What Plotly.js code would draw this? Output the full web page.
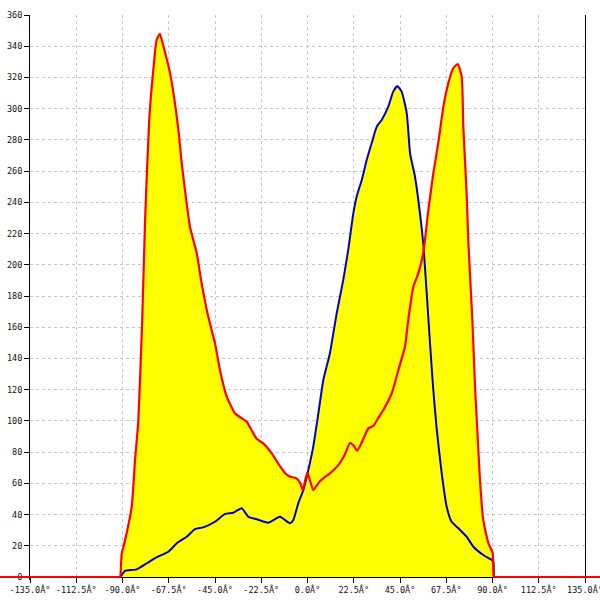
<!DOCTYPE html>
<html>
<head>
<meta charset="utf-8">
<script src="https://cdn.plot.ly/plotly-3.0.1.min.js"></script>
<style>html,body{margin:0;padding:0;background:#fff}#chart{width:600px;height:600px}</style>
</head>
<body>
<div id="chart"></div>
<script>
// Red series (angle in degrees, value)
const redX = [-180, -135, -100, -92, -91.2, -90.4, -89.6, -88, -85.5, -83.9, -82.3, -80.4, -79, -77, -75, -73.4, -71.8, -70.1, -66.9, -64.5, -62.8, -61.2, -58.8, -57.2, -53.9, -51.5, -48.3, -45, -42.6, -39.3, -35.3, -32, -29.6, -24.7, -21.5, -17.4, -13.4, -10.5, -8.5, -5.3, -3.5, -2.3, -0.1, 2.8, 5.8, 8, 10.9, 15, 18, 20.7, 22.5, 24.2, 27, 29.6, 32, 34.5, 36.9, 41, 44.2, 47.4, 49, 51.5, 53.9, 56.3, 58.8, 61.2, 63.6, 66.1, 68.5, 70.9, 73.1, 75, 75.8, 76.6, 77.4, 78.2, 79.1, 80.2, 81.5, 82.6, 83.9, 85.5, 88, 90.1, 90.7, 91.5, 100, 135, 180];
const redY = [0, 0, 0, 0, 0, 15, 19, 28, 45, 75, 100, 165, 229, 293, 325, 344, 348, 340, 323, 303.5, 286.4, 265, 239.4, 224.4, 207.4, 188.1, 166.8, 149.7, 132.6, 115.5, 104.9, 101.7, 99.5, 88.5, 85.6, 79.2, 71, 66, 64.3, 63.2, 60, 55.7, 67, 55.7, 61, 63.5, 66.4, 71.7, 78, 86, 84, 81, 88, 95.2, 96.7, 102, 107, 117.7, 132.6, 147.5, 164.6, 186, 194.5, 207.4, 235.1, 258.6, 277.8, 301.3, 316.3, 325.9, 328.6, 320.5, 288.5, 267.1, 245.8, 215.9, 192.4, 164.6, 122, 94.2, 62.1, 36.5, 21.6, 15.2, 0, 0, 0, 0, 0];

// Blue series
const blueX = [-91.2, -90.4, -88.8, -83.1, -78.2, -73.4, -67.7, -63.6, -58.8, -54.7, -50.7, -45, -40.1, -36.1, -32, -28.8, -24.7, -19.1, -13.4, -8.5, -6.9, -4.5, -2, 0.4, 2.8, 5.3, 7.7, 10.9, 14.2, 17.4, 19.8, 22.3, 23.9, 26.4, 28.8, 31.2, 33.7, 36.1, 39.3, 41.7, 43.7, 45.8, 48.3, 49.9, 52.3, 53.9, 56.3, 58, 59.6, 61.2, 62.9, 65.3, 67.7, 70.1, 73.4, 77.4, 80.7, 85.5, 89.6, 90.4, 90.6];
const blueY = [0, 1.3, 4, 4.9, 8.8, 12.6, 16.2, 21.6, 25.8, 30.6, 31.8, 35.4, 40.4, 41.2, 44, 38.6, 37, 34.8, 38.6, 34.4, 36.5, 47.2, 55.7, 68.5, 83.5, 104.9, 126.2, 143.3, 168.9, 190.3, 209.5, 233, 243.6, 254.3, 267.1, 277.8, 288.5, 292.8, 301.3, 310.9, 314.5, 310.9, 297, 271.4, 256.4, 241.5, 213.8, 181.7, 149.7, 119.8, 94.2, 66.4, 45, 35.4, 31.2, 25.8, 19.4, 14.1, 10.9, 9.8, 0];

// Tick labels
const xTickVals = [-135, -112.5, -90, -67.5, -45, -22.5, 0, 22.5, 45, 67.5, 90, 112.5, 135];
const xTickText = ["-135.0Â°", "-112.5Â°", "-90.0Â°", "-67.5Â°", "-45.0Â°", "-22.5Â°", "0.0Â°", "22.5Â°", "45.0Â°", "67.5Â°", "90.0Â°", "112.5Â°", "135.0Â°"];
const yTickVals = [0, 20, 40, 60, 80, 100, 120, 140, 160, 180, 200, 220, 240, 260, 280, 300, 320, 340, 360];

// Geometry
const W = 600, H = 600;
const plotL = 30, plotR = 585, mT = 15, mB = 20;
const xMin = -135, xMax = 135;
const upp = (xMax - xMin) / (plotR - plotL);
const x2Range = [xMin - plotL * upp, xMax + (W - plotR) * upp];
const plotH = H - mT - mB;
const yTop = 360, yZeroPx = 577;
const vpp = yTop / (yZeroPx - mT);
const yRange = [-(H - mB - yZeroPx) * vpp, yTop];

const font = {family: "DejaVu Sans Mono, monospace", size: 8.5, color: "#111"};
const YELLOW = "#FFFF00";
const SMOOTH = 0.5;

const traces = [
  {x: redX, y: redY, type: "scatter", mode: "lines", line: {width: 0, shape: "spline", smoothing: SMOOTH}, fill: "tozeroy", fillcolor: YELLOW, xaxis: "x", yaxis: "y", hoverinfo: "skip"},
  {x: blueX, y: blueY, type: "scatter", mode: "lines", line: {width: 0, shape: "spline", smoothing: SMOOTH}, fill: "tozeroy", fillcolor: YELLOW, xaxis: "x", yaxis: "y", hoverinfo: "skip"},
  {x: blueX, y: blueY, type: "scatter", mode: "lines", line: {color: "#0000CC", width: 2, shape: "spline", smoothing: SMOOTH}, xaxis: "x2", yaxis: "y2", hoverinfo: "skip"},
  {x: redX, y: redY, type: "scatter", mode: "lines", line: {color: "#FF0000", width: 2.2, shape: "spline", smoothing: SMOOTH}, xaxis: "x2", yaxis: "y2", hoverinfo: "skip"}
];

const grid = {color: "#c8c8c8", dash: "3px,3px"};

const layout = {
  width: W, height: H,
  margin: {l: 0, r: 0, t: mT, b: mB, pad: 0},
  paper_bgcolor: "#fff", plot_bgcolor: "rgba(0,0,0,0)",
  showlegend: false,
  font: font,
  xaxis: {
    domain: [plotL / W, plotR / W], range: [xMin, xMax], fixedrange: true,
    tickmode: "array", tickvals: xTickVals, ticktext: xTickText,
    ticks: "outside", ticklen: 5, tickcolor: "#000", tickwidth: 1,
    showline: true, linecolor: "#000", linewidth: 1,
    showgrid: true, gridcolor: grid.color, griddash: grid.dash, gridwidth: 1,
    zeroline: false, anchor: "free", position: (H - mB - yZeroPx) / plotH,
    tickfont: font, automargin: false, ticklabeloverflow: "allow"
  },
  yaxis: {
    domain: [0, 1], range: yRange, fixedrange: true,
    tickmode: "array", tickvals: yTickVals,
    ticks: "outside", ticklen: 5, tickcolor: "#000", tickwidth: 1,
    showline: true, linecolor: "#000", linewidth: 1, mirror: true,
    showgrid: true, gridcolor: grid.color, griddash: grid.dash, gridwidth: 1,
    zeroline: false, anchor: "x", tickfont: font, automargin: false, ticklabeloverflow: "allow"
  },
  xaxis2: {domain: [0, 1], range: x2Range, visible: false, fixedrange: true, anchor: "y2"},
  yaxis2: {domain: [0, 1], range: yRange, visible: false, fixedrange: true, anchor: "x2"}
};

Plotly.newPlot("chart", traces, layout, {staticPlot: true, displayModeBar: false}).then(function (gd) {
  const sp = gd.querySelector(".subplot.xy");
  if (sp) {
    const g = sp.querySelector(":scope > .gridlayer");
    const p = sp.querySelector(":scope > .plot");
    if (g && p) p.after(g);
  }
});
</script>
</body>
</html>
